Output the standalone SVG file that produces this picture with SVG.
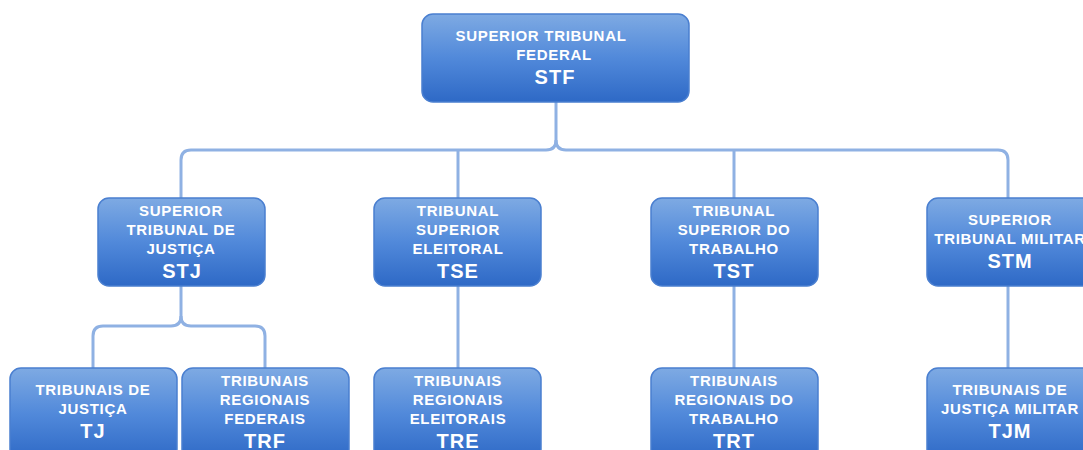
<svg xmlns="http://www.w3.org/2000/svg" width="1083" height="450" viewBox="0 0 1083 450">
<defs>
<linearGradient id="g" x1="0" y1="0" x2="0" y2="1">
<stop offset="0" stop-color="#7eaae3"/>
<stop offset="0.5" stop-color="#5189da"/>
<stop offset="1" stop-color="#2e69c6"/>
</linearGradient>
<style>
.box{fill:url(#g);stroke:#4a7fd0;stroke-width:1.5}
.t{font-family:"Liberation Sans",Arial,sans-serif;font-weight:bold;font-size:15px;fill:#fff;text-anchor:middle;letter-spacing:0.7px}
.a{font-size:20px;letter-spacing:1px}
.c{fill:none;stroke:#8fb1e3;stroke-width:3;stroke-linejoin:round}
</style>
</defs>
<rect width="1083" height="450" fill="#fff"/>
<g id="connectors">
<path class="c" d="M556 102 V140 Q556 150 546 150 H191 Q181 150 181 160 V198"/>
<path class="c" d="M556 140 Q556 150 566 150 H998 Q1008 150 1008 160 V198"/>
<path class="c" d="M458 150 V198"/>
<path class="c" d="M734 150 V198"/>
<path class="c" d="M181 286 V316 Q181 326 171 326 H103 Q93 326 93 336 V368"/>
<path class="c" d="M181 316 Q181 326 191 326 H255 Q265 326 265 336 V368"/>
<path class="c" d="M458 286 V368"/>
<path class="c" d="M734 286 V368"/>
<path class="c" d="M1008 286 V368"/>
</g>
<g id="stf">
<rect class="box" x="422" y="14" width="267" height="88" rx="11"/>
<text class="t" x="541" y="41">SUPERIOR TRIBUNAL</text>
<text class="t" x="554" y="60">FEDERAL</text>
<text class="t a" x="555" y="84">STF</text>
</g>
<g id="stj">
<rect class="box" x="98" y="198" width="167" height="88" rx="11"/>
<text class="t" x="181" y="216">SUPERIOR</text>
<text class="t" x="181" y="235">TRIBUNAL DE</text>
<text class="t" x="181" y="254">JUSTIÇA</text>
<text class="t a" x="182" y="278">STJ</text>
</g>
<g id="tse">
<rect class="box" x="374" y="198" width="167" height="88" rx="11"/>
<text class="t" x="458" y="216">TRIBUNAL</text>
<text class="t" x="458" y="235">SUPERIOR</text>
<text class="t" x="458" y="254">ELEITORAL</text>
<text class="t a" x="458" y="278">TSE</text>
</g>
<g id="tst">
<rect class="box" x="651" y="198" width="167" height="88" rx="11"/>
<text class="t" x="734" y="216">TRIBUNAL</text>
<text class="t" x="734" y="235">SUPERIOR DO</text>
<text class="t" x="734" y="254">TRABALHO</text>
<text class="t a" x="734" y="278">TST</text>
</g>
<g id="stm">
<rect class="box" x="927" y="198" width="167" height="88" rx="11"/>
<text class="t" x="1010" y="225">SUPERIOR</text>
<text class="t" x="1010" y="244">TRIBUNAL MILITAR</text>
<text class="t a" x="1010" y="268">STM</text>
</g>
<g id="tj">
<rect class="box" x="10" y="368" width="167" height="92" rx="11"/>
<text class="t" x="93" y="395">TRIBUNAIS DE</text>
<text class="t" x="93" y="414">JUSTIÇA</text>
<text class="t a" x="93" y="438">TJ</text>
</g>
<g id="trf">
<rect class="box" x="182" y="368" width="167" height="92" rx="11"/>
<text class="t" x="265" y="386">TRIBUNAIS</text>
<text class="t" x="265" y="405">REGIONAIS</text>
<text class="t" x="265" y="424">FEDERAIS</text>
<text class="t a" x="265" y="448">TRF</text>
</g>
<g id="tre">
<rect class="box" x="374" y="368" width="167" height="92" rx="11"/>
<text class="t" x="458" y="386">TRIBUNAIS</text>
<text class="t" x="458" y="405">REGIONAIS</text>
<text class="t" x="458" y="424">ELEITORAIS</text>
<text class="t a" x="458" y="448">TRE</text>
</g>
<g id="trt">
<rect class="box" x="651" y="368" width="167" height="92" rx="11"/>
<text class="t" x="734" y="386">TRIBUNAIS</text>
<text class="t" x="734" y="405">REGIONAIS DO</text>
<text class="t" x="734" y="424">TRABALHO</text>
<text class="t a" x="734" y="448">TRT</text>
</g>
<g id="tjm">
<rect class="box" x="927" y="368" width="167" height="92" rx="11"/>
<text class="t" x="1010" y="395">TRIBUNAIS DE</text>
<text class="t" x="1010" y="414">JUSTIÇA MILITAR</text>
<text class="t a" x="1010" y="438">TJM</text>
</g>
</svg>
